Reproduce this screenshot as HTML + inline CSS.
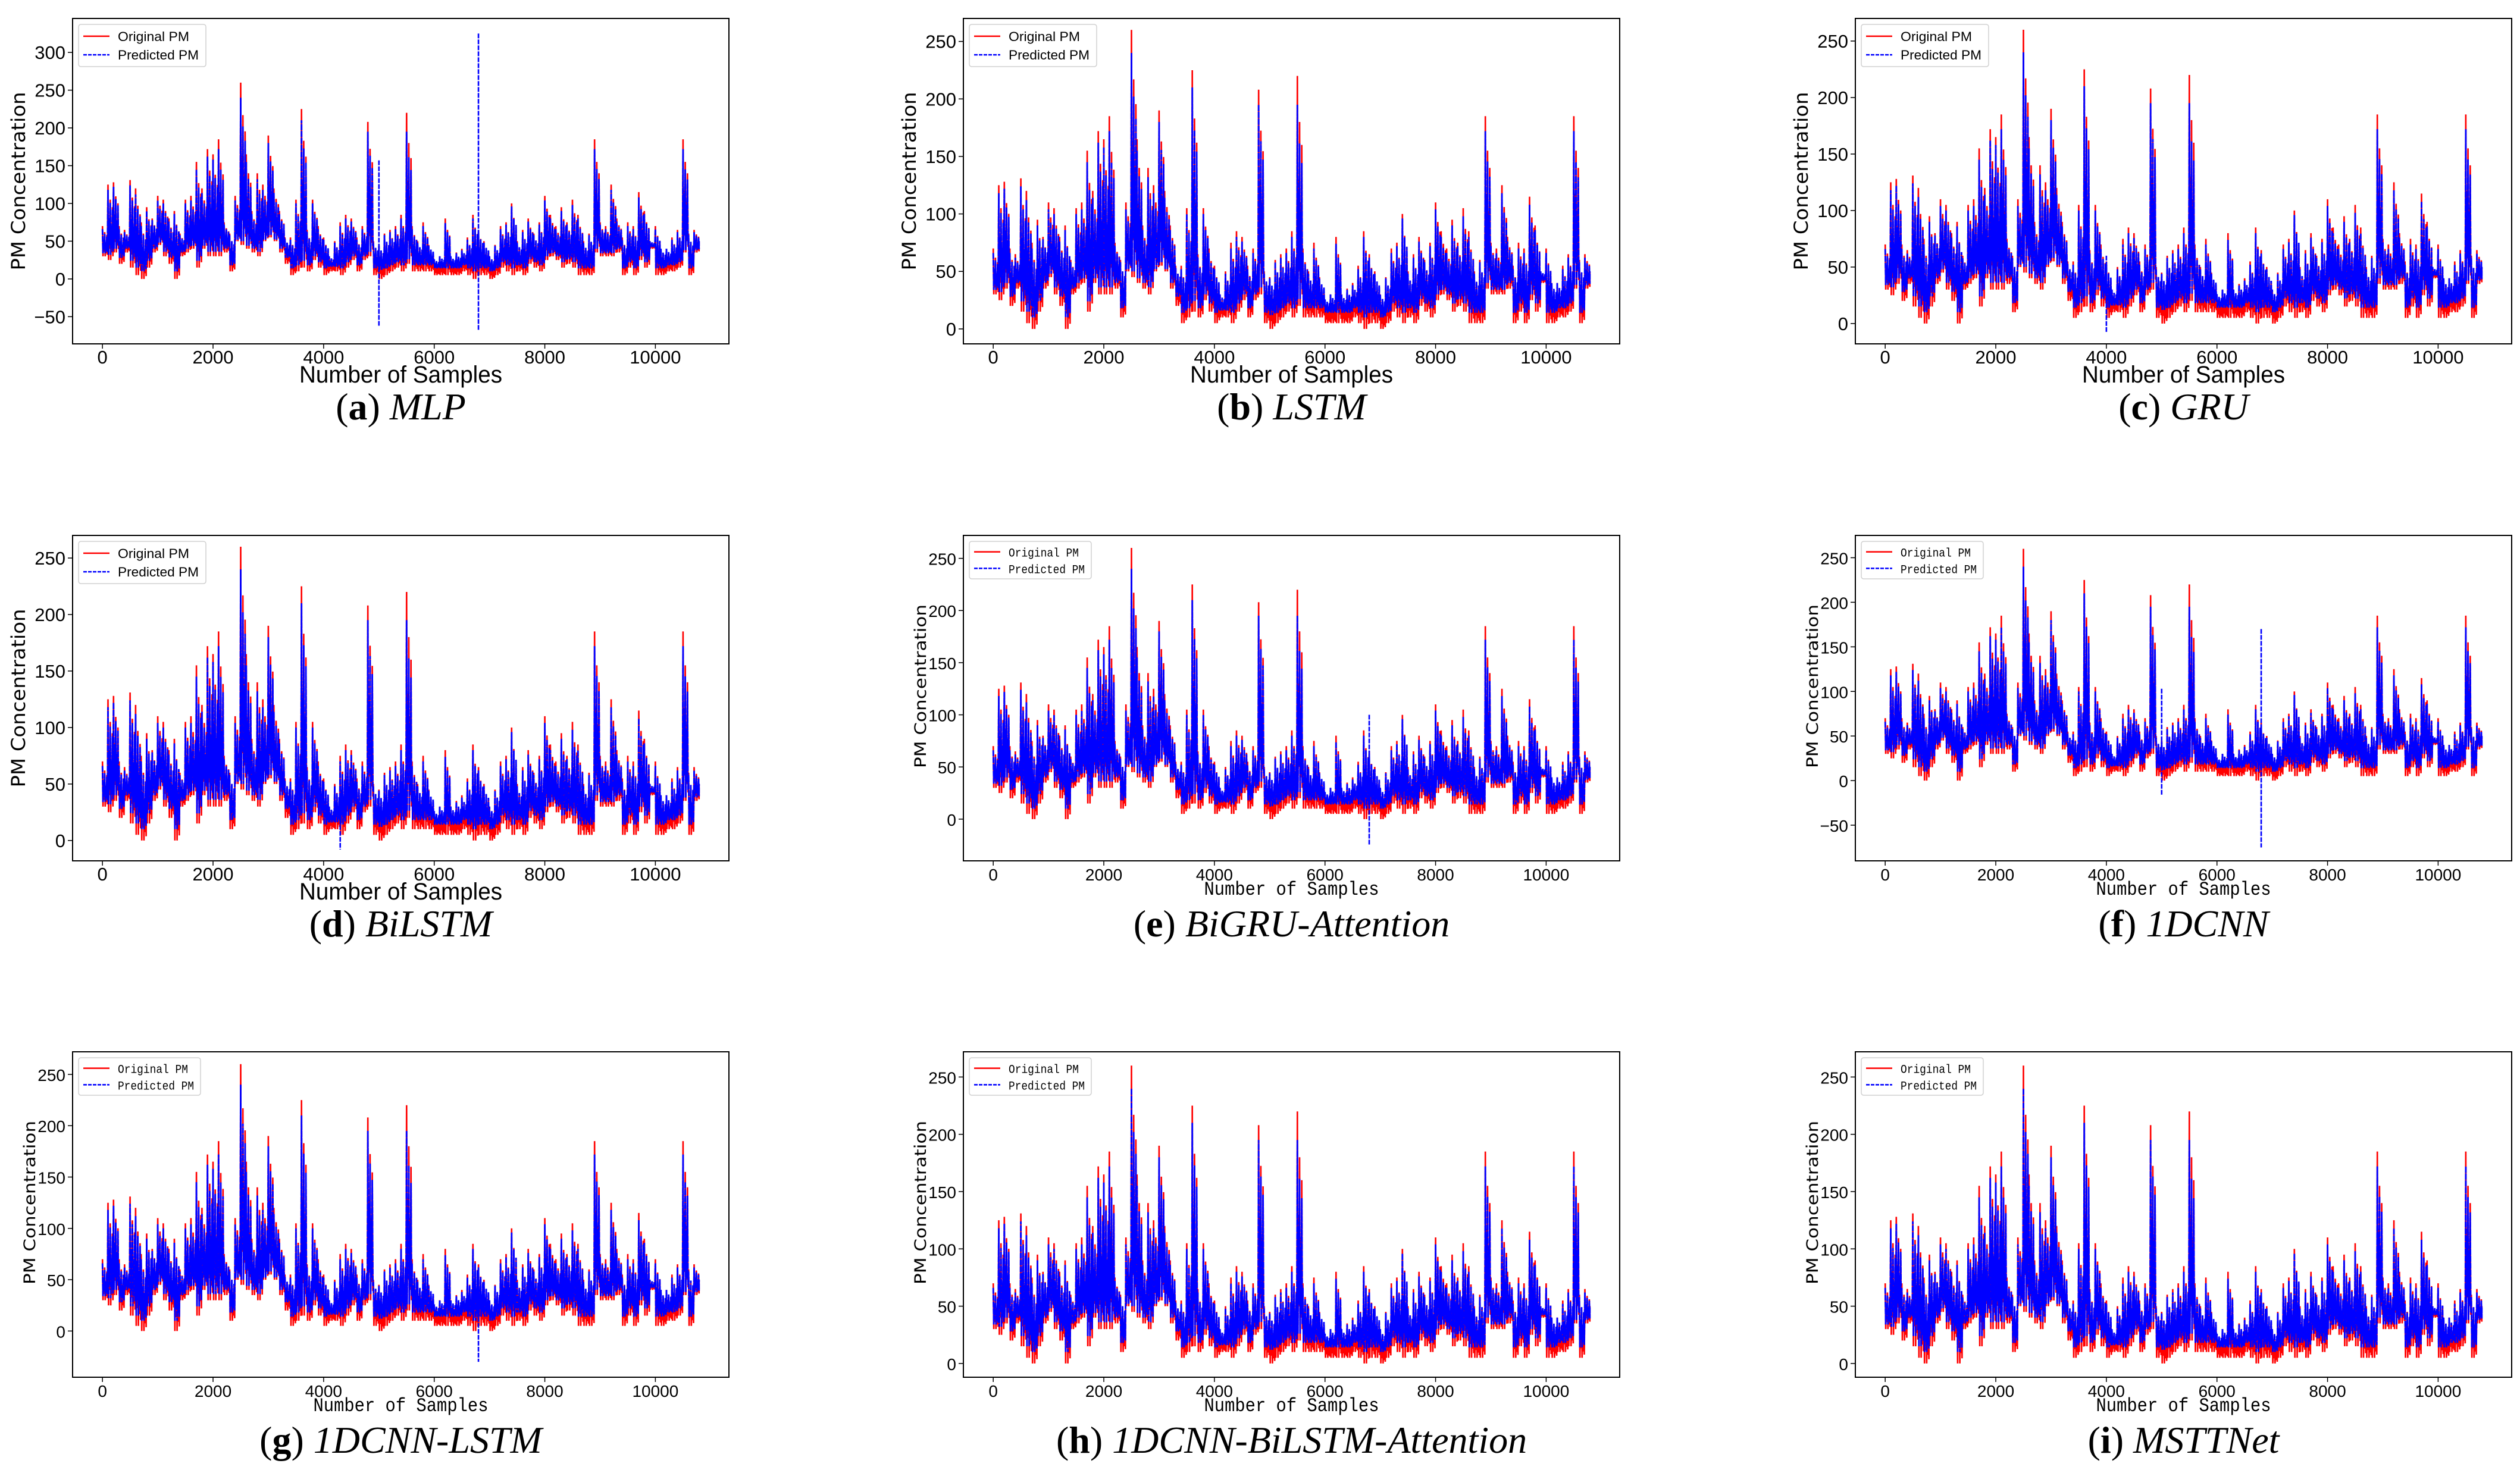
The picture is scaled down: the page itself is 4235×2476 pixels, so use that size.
<!DOCTYPE html>
<html><head><meta charset="utf-8"><style>
html,body{margin:0;padding:0;background:#fff}
svg{display:block}
</style></head><body>
<svg id="fig" width="4235" height="2476" viewBox="0 0 4235 2476" xmlns="http://www.w3.org/2000/svg"></svg>
<script>
// Data: per-100-sample bins, high/low of original PM series
const binStart = [0,100,200,300,400,500,600,700,800,900,1000,1100,1200,1300,1400,1500,1600,1700,1800,1900,2000,2100,2200,2300,2400,2500,2600,2700,2800,2900,3000,3100,3200,3300,3400,3500,3600,3700,3800,3900,4000,4100,4200,4300,4400,4500,4600,4700,4800,4900,5000,5100,5200,5300,5400,5500,5600,5700,5800,5900,6000,6100,6200,6300,6400,6500,6600,6700,6800,6900,7000,7100,7200,7300,7400,7500,7600,7700,7800,7900,8000,8100,8200,8300,8400,8500,8600,8700,8800,8900,9000,9100,9200,9300,9400,9500,9600,9700,9800,9900,10000,10100,10200,10300,10400,10500,10600,10700];
const origHi = [70,125,128,70,65,131,120,75,95,80,110,105,80,90,60,105,110,155,120,172,165,185,75,60,110,260,165,90,140,125,190,120,90,55,55,105,225,65,105,70,55,30,50,75,85,80,55,70,208,50,45,60,65,70,85,220,70,50,75,45,25,30,80,30,35,40,55,85,65,50,30,45,70,75,100,50,65,80,60,75,110,85,70,95,75,105,85,50,60,185,75,70,125,80,55,75,70,115,90,50,70,40,40,55,65,185,60,65];
const origLo = [30,25,35,20,35,15,5,0,15,35,45,30,20,0,30,35,40,15,40,30,30,30,35,10,50,45,40,35,30,50,55,50,35,20,5,10,15,10,25,15,5,10,10,5,15,25,10,25,30,5,0,5,10,15,10,20,10,10,10,10,5,5,5,5,5,10,5,0,5,5,0,5,15,10,5,10,5,20,15,10,25,30,25,15,20,15,5,5,5,35,30,30,30,35,5,15,5,25,15,40,5,5,10,10,15,35,5,35];
const predHi = [66,118,122,66,62,124,112,70,90,78,104,100,76,86,58,100,104,145,114,162,158,172,72,58,104,240,155,86,132,118,180,114,86,53,52,100,210,62,100,66,52,30,48,70,80,76,52,66,195,48,44,58,62,66,80,195,66,48,70,44,26,30,74,30,34,38,52,80,62,48,30,44,66,72,96,48,62,76,58,72,104,80,66,90,72,98,80,48,58,172,72,66,118,76,52,70,66,108,86,50,66,40,40,52,62,172,58,62];
const predLo = [34,32,40,28,40,24,15,10,24,40,48,36,28,10,35,40,44,24,44,36,36,36,40,18,52,50,44,40,36,52,58,52,40,28,14,18,24,18,30,22,14,16,16,14,22,30,18,30,36,14,12,14,18,22,18,26,18,18,18,18,14,14,14,14,14,18,14,10,14,14,10,14,22,18,14,18,14,26,22,18,30,34,30,22,26,22,14,14,14,40,34,34,34,40,14,22,14,30,22,42,14,14,18,18,22,38,14,38];
// Outlier spikes in predictions for particular models: [sample, high, low]
const mlpSpikes = [[5000,157,-62],[6800,325,-68]];
const gruSpikes = [[4000,60,-8]];
const bilstmSpikes = [[4300,40,-8]];
const bigruSpikes = [[6800,100,-25]];
const cnnSpikes = [[5000,103,-17],[6800,170,-75]];
const cnnlstmSpikes = [[6800,60,-30]];
const xTicks = [0,2000,4000,6000,8000,10000];

const NS='http://www.w3.org/2000/svg';
const svg=document.getElementById('fig');
function mk(tag,attrs,parent){const e=document.createElementNS(NS,tag);for(const k in attrs)e.setAttribute(k,attrs[k]);(parent||svg).appendChild(e);return e;}

const colX=[122,1619,3118], rowY=[31,900,1768], AW=1103, AH=547;
const panels=[
 {id:'a',name:'MLP',c:0,r:0,y0:-86,y1:345,ticks:[-50,0,50,100,150,200,250,300],spikes:mlpSpikes,style:1},
 {id:'b',name:'LSTM',c:1,r:0,y0:-13,y1:270,ticks:[0,50,100,150,200,250],spikes:[],style:1},
 {id:'c',name:'GRU',c:2,r:0,y0:-18,y1:270,ticks:[0,50,100,150,200,250],spikes:gruSpikes,style:1},
 {id:'d',name:'BiLSTM',c:0,r:1,y0:-18,y1:270,ticks:[0,50,100,150,200,250],spikes:bilstmSpikes,style:1},
 {id:'e',name:'BiGRU-Attention',c:1,r:1,y0:-40,y1:272,ticks:[0,50,100,150,200,250],spikes:bigruSpikes,style:2},
 {id:'f',name:'1DCNN',c:2,r:1,y0:-90,y1:275,ticks:[-50,0,50,100,150,200,250],spikes:cnnSpikes,style:2},
 {id:'g',name:'1DCNN-LSTM',c:0,r:2,y0:-45,y1:272,ticks:[0,50,100,150,200,250],spikes:cnnlstmSpikes,style:2},
 {id:'h',name:'1DCNN-BiLSTM-Attention',c:1,r:2,y0:-12,y1:272,ticks:[0,50,100,150,200,250],spikes:[],style:2},
 {id:'i',name:'MSTTNet',c:2,r:2,y0:-12,y1:272,ticks:[0,50,100,150,200,250],spikes:[],style:2},
];
const X0=-540,X1=11330;
// drawing pattern within a bin (fractions between low and high) — rendering only
const subFrac=[1,0,0.55,0.15,0.8,0,0.45,0.1,0.7,0.05];

function series(hi,lo){const pts=[];const n=subFrac.length;for(let i=0;i<binStart.length;i++){const b=binStart[i];for(let k=0;k<n;k++){pts.push([b+k*100/n,lo[i]+(hi[i]-lo[i])*subFrac[k]]);}}pts.push([10790,(hi[hi.length-1]+lo[lo.length-1])/2]);return pts;}

panels.forEach(p=>{
  const L=colX[p.c],T=rowY[p.r];
  const sx=v=>L+(v-X0)/(X1-X0)*AW;
  const sy=v=>T+(p.y1-v)/(p.y1-p.y0)*AH;
  const g=mk('g',{});
  
  
  const tickFont='"Liberation Sans Narrow","Liberation Sans",sans-serif';
  const tfs=p.style===1?31:28;
  const cp=mk('clipPath',{id:'cp'+p.id},g);mk('rect',{x:L,y:T,width:AW,height:AH},cp);
  const plot=mk('g',{'clip-path':'url(#cp'+p.id+')'},g);
  const o=series(origHi,origLo).map(q=>sx(q[0]).toFixed(1)+','+sy(q[1]).toFixed(1)).join(' ');
  const orig=mk('polyline',{points:o,fill:'none',stroke:'#ff0000','stroke-width':2.6,'stroke-linejoin':'miter'},plot);
  
  
  const pr=series(predHi,predLo).map(q=>sx(q[0]).toFixed(1)+','+sy(q[1]).toFixed(1)).join(' ');
  const pred=mk('polyline',{points:pr,fill:'none',stroke:'#0000ff','stroke-width':2.8,'stroke-dasharray':'10,1.5'},plot);
  
  
  p.spikes.forEach(s=>{
    const sp=mk('line',{x1:sx(s[0]),x2:sx(s[0]),y1:sy(s[1]),y2:sy(s[2]),stroke:'#0000ff','stroke-width':2.6,'stroke-dasharray':'8,2'},plot);
    
    
  });
  mk('rect',{x:L,y:T,width:AW,height:AH,fill:'none',stroke:'#000','stroke-width':2},g);
  p.ticks.forEach(t=>{
    const y=sy(t);
    mk('line',{x1:L-8,x2:L,y1:y,y2:y,stroke:'#000','stroke-width':1.5},g);
    const tx=mk('text',{x:L-12,y:y+11,'text-anchor':'end','font-family':tickFont,'font-size':tfs},g);
    tx.textContent=(t<0?'\u2212':'')+Math.abs(t);
    
    
  });
  xTicks.forEach(t=>{
    const x=sx(t);
    mk('line',{x1:x,x2:x,y1:T+AH,y2:T+AH+8,stroke:'#000','stroke-width':1.5},g);
    const tx=mk('text',{x:x,y:T+AH+33,'text-anchor':'middle','font-family':tickFont,'font-size':tfs},g);
    tx.textContent=t;
    
    
  });
  const xl=mk('text',{x:L+AW/2,y:T+(p.style===1?612:604),'text-anchor':'middle','font-family':p.style===1?'"Liberation Sans Narrow","Liberation Sans",sans-serif':'"Liberation Mono",monospace','font-size':p.style===1?40:32,textLength:p.style===1?341:294,lengthAdjust:'spacingAndGlyphs'},g);
  xl.textContent='Number of Samples';
  
  
  const ycx=L-(p.style===1?91:74), ycy=T+AH/2-(p.style===1?0:20);
  const yl=mk('text',{x:ycx,y:ycy,'text-anchor':'middle','font-family':'"DejaVu Sans",sans-serif','font-size':p.style===1?32:27,transform:'rotate(-90 '+ycx+' '+ycy+') translate(0 11)',textLength:p.style===1?300:275,lengthAdjust:'spacingAndGlyphs'},g);
  yl.textContent='PM Concentration';
  
  
  const lg=mk('g',{},g);
  
  
  const lw=p.style===1?214:205, lh=p.style===1?71:63, lx=L+10, ly=T+10, lfs=p.style===1?22:20;
  mk('rect',{x:lx,y:ly,width:lw,height:lh,rx:4,fill:'#fff',stroke:'#d0d0d0','stroke-width':1.5},lg);
  mk('line',{x1:lx+8,x2:lx+52,y1:ly+lh*0.28,y2:ly+lh*0.28,stroke:'#ff0000','stroke-width':2.5},lg);
  mk('line',{x1:lx+8,x2:lx+52,y1:ly+lh*0.72,y2:ly+lh*0.72,stroke:'#0000ff','stroke-width':2.5,'stroke-dasharray':'6,2'},lg);
  const lf=p.style===1?'"Liberation Sans Narrow","Liberation Sans",sans-serif':'"Liberation Mono",monospace';
  const t1=mk('text',{x:lx+66,y:ly+lh*0.28+8,'font-family':lf,'font-size':lfs,textLength:p.style===1?120:118,lengthAdjust:'spacingAndGlyphs'},lg);t1.textContent='Original PM';
  
  
  const t2=mk('text',{x:lx+66,y:ly+lh*0.72+8,'font-family':lf,'font-size':lfs,textLength:p.style===1?136:128,lengthAdjust:'spacingAndGlyphs'},lg);t2.textContent='Predicted PM';
  
  
  const cap=mk('text',{x:L+AW/2,y:T+674,'text-anchor':'middle','font-family':'"Liberation Serif",serif','font-size':64},g);
  
  
  const a=mk('tspan',{},cap);a.textContent='(';
  const b=mk('tspan',{'font-weight':'bold'},cap);b.textContent=p.id;
  const c=mk('tspan',{},cap);c.textContent=') ';
  const d=mk('tspan',{'font-style':'italic'},cap);d.textContent=p.name;
});
</script>
</body></html>
